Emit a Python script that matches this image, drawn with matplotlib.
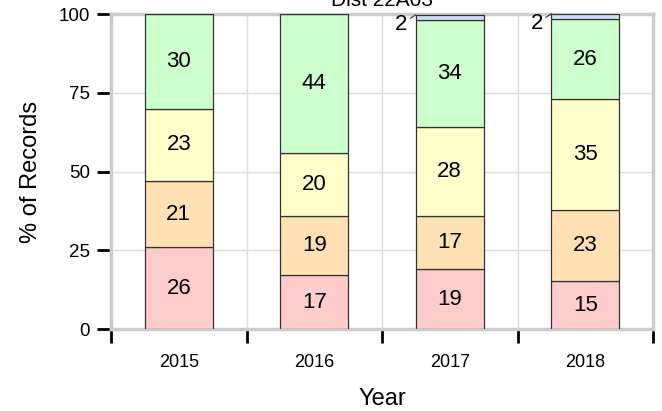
import numpy as np
import matplotlib.pyplot as plt
from matplotlib.ticker import FixedLocator

# datos
years = ['2015', '2016', '2017', '2018']
red = [26, 17, 19, 15.2]
orange = [21, 19, 17, 22.7]
yellow = [23, 20, 28, 35.0]
green = [30, 44, 34, 25.6]
blue = [0, 0, 1.8, 1.6]

series = [red, orange, yellow, green, blue]
colors = ['#ffcccc', '#ffe0b3', '#ffffcc', '#ccffcc', '#cce0f8']

plt.rcParams['font.family'] = ['Liberation Sans', 'DejaVu Sans']

fig = plt.figure(figsize=(6.62, 4.11), dpi=100)
ax = fig.add_axes([111 / 662, 1 - 329 / 411, 542 / 662, 315 / 411])

x = np.arange(len(years))
bottom = np.zeros(len(years))
for vals, c in zip(series, colors):
    vals = np.array(vals, dtype=float)
    ax.bar(x, vals, width=0.5, bottom=bottom, color=c, edgecolor='#333333',
           linewidth=0.9, zorder=3)
    for i, v in enumerate(vals):
        if v <= 0:
            continue
        if v >= 5:
            ax.text(x[i], bottom[i] + v / 2, f'{round(v):d}', ha='center',
                    va='center', fontsize=16, zorder=4)
        else:
            ax.annotate(f'{round(v):d}', xy=(x[i] - 0.25, bottom[i] + v),
                        xytext=(-6, -7), textcoords='offset points',
                        ha='right', va='center', fontsize=16,
                        arrowprops=dict(arrowstyle='-', color='#333333',
                                        lw=0.8, shrinkA=0, shrinkB=0))
    bottom += vals

ax.set_xlim(-0.5, len(years) - 0.5)
ax.set_ylim(0, 100)
ax.set_yticks([0, 25, 50, 75, 100])
ax.set_xticks(x)
ax.set_xticklabels(years, fontsize=13)
ax.xaxis.set_minor_locator(FixedLocator(np.arange(-0.5, len(years), 1)))
ax.tick_params(axis='x', which='major', length=0, pad=18)
ax.tick_params(axis='x', which='minor', length=10, width=2, color='black')
ax.tick_params(axis='y', length=10, width=2, color='black', labelsize=13.5, pad=5)

ax.grid(True, which='minor', axis='x', color='#dddddd', lw=1, zorder=0)
ax.grid(True, which='major', axis='y', color='#dddddd', lw=1, zorder=0)
for s in ax.spines.values():
    s.set_color('#cccccc')
    s.set_linewidth(2.5)

ax.set_xlabel('Year', fontsize=17, labelpad=12)
ax.set_ylabel('% of Records', fontsize=17, labelpad=12)
ax.set_title('Dist 22A03', fontsize=15, pad=6)

fig.savefig('out.png', dpi=100)
